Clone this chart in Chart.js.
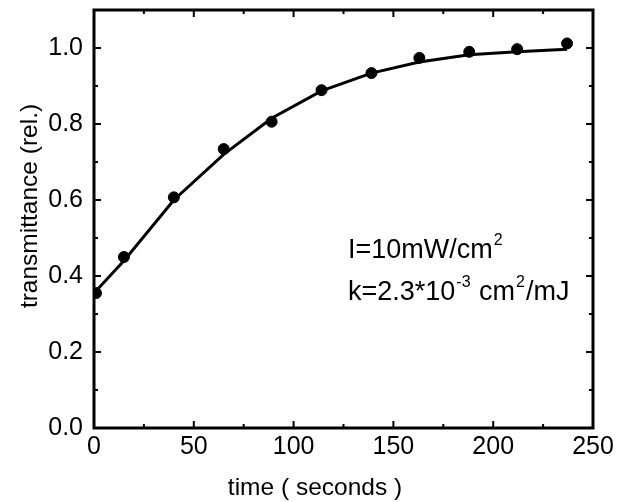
<!DOCTYPE html>
<html>
<head>
<meta charset="utf-8">
<script src="https://cdn.jsdelivr.net/npm/chart.js@4"></script>
<style>
  html, body { margin: 0; padding: 0; background: #fff; }
  #wrap { width: 631px; height: 502px; }
</style>
</head>
<body>
<div id="wrap"><canvas id="grafico" width="631" height="502"></canvas></div>
<script>
// measured points
const tempos = [1, 15, 40, 65, 89, 114, 139, 163, 188, 212, 237];
const transm = [0.355, 0.45, 0.607, 0.734, 0.806, 0.889, 0.934, 0.974, 0.99, 0.997, 1.012];

// fitted curve
const tempoAjuste = [0, 15, 40, 65, 89, 114, 139, 163, 188, 212, 237];
const transmAjuste = [0.355, 0.44, 0.60, 0.72, 0.815, 0.887, 0.934, 0.963, 0.982, 0.99, 0.997];

const xMarcas = [0, 50, 100, 150, 200, 250];
const yMarcas = [0.0, 0.2, 0.4, 0.6, 0.8, 1.0];
const xMenores = [25, 75, 125, 175, 225];
const yMenores = [0.1, 0.3, 0.5, 0.7, 0.9];

const fonte = '"Liberation Sans", Arial, sans-serif';

const moldura = {
    id: 'moldura',
    afterDraw(chart) {
        const ctx = chart.ctx;
        const a = chart.chartArea;
        const sx = chart.scales.x, sy = chart.scales.y;
        ctx.save();
        ctx.strokeStyle = '#000';
        ctx.lineWidth = 3;
        ctx.strokeRect(a.left, a.top, a.right - a.left, a.bottom - a.top);

        ctx.lineWidth = 2;
        const tick = (x1, y1, x2, y2) => { ctx.beginPath(); ctx.moveTo(x1, y1); ctx.lineTo(x2, y2); ctx.stroke(); };
        xMarcas.forEach(v => {
            const px = sx.getPixelForValue(v);
            tick(px, a.bottom, px, a.bottom - 7);
            tick(px, a.top, px, a.top + 7);
        });
        xMenores.forEach(v => {
            const px = sx.getPixelForValue(v);
            tick(px, a.bottom, px, a.bottom - 4);
            tick(px, a.top, px, a.top + 4);
        });
        yMarcas.forEach(v => {
            const py = sy.getPixelForValue(v);
            tick(a.left, py, a.left + 7, py);
            tick(a.right, py, a.right - 7, py);
        });
        yMenores.forEach(v => {
            const py = sy.getPixelForValue(v);
            tick(a.left, py, a.left + 4, py);
            tick(a.right, py, a.right - 4, py);
        });

        ctx.fillStyle = '#000';
        ctx.textBaseline = 'alphabetic';

        // axis titles
        ctx.font = '24.5px ' + fonte;
        ctx.textAlign = 'center';
        ctx.fillText('time ( seconds )', 315, 495);
        ctx.save();
        ctx.translate(37, 206);
        ctx.rotate(-Math.PI / 2);
        ctx.fillText('transmittance (rel.)', 0, 0);
        ctx.restore();

        // annotation
        ctx.textAlign = 'left';
        const escrever = (partes, x, y) => {
            partes.forEach(p => {
                if (p.sup) {
                    ctx.font = '16px ' + fonte;
                    ctx.fillText(p.t, x + 1, y - 13);
                    x += ctx.measureText(p.t).width + 2;
                } else {
                    ctx.font = '27px ' + fonte;
                    ctx.fillText(p.t, x, y);
                    x += ctx.measureText(p.t).width;
                }
            });
        };
        escrever([{ t: 'I=10mW/cm' }, { t: '2', sup: true }], 348, 258);
        escrever([{ t: 'k=2.3*10' }, { t: '-3', sup: true }, { t: ' cm' }, { t: '2', sup: true }, { t: '/mJ' }], 348, 300);
        ctx.restore();
    }
};

new Chart(document.getElementById('grafico'), {
    type: 'scatter',
    data: {
        datasets: [
            {
                label: 'dados',
                data: tempos.map((t, i) => ({ x: t, y: transm[i] })),
                backgroundColor: '#000',
                borderColor: '#000',
                pointRadius: 5.5,
                showLine: false
            },
            {
                label: 'ajuste',
                data: tempoAjuste.map((t, i) => ({ x: t, y: transmAjuste[i] })),
                borderColor: '#000',
                borderWidth: 3,
                pointRadius: 0,
                showLine: true,
                tension: 0
            }
        ]
    },
    options: {
        responsive: false,
        animation: false,
        layout: { padding: { left: 0, top: 10, right: 38, bottom: 0 } },
        plugins: { legend: { display: false }, tooltip: { enabled: false } },
        scales: {
            x: {
                type: 'linear',
                min: 0, max: 250,
                afterFit: s => { s.height = 74; s.paddingLeft = 0; s.paddingRight = 0; },
                grid: { display: false, drawTicks: false },
                border: { display: false },
                ticks: {
                    stepSize: 50,
                    padding: 4,
                    color: '#000',
                    font: { family: fonte, size: 25 },
                    maxRotation: 0
                }
            },
            y: {
                type: 'linear',
                min: 0, max: 1.1,
                afterFit: s => { s.width = 94; s.paddingTop = 0; s.paddingBottom = 0; },
                afterBuildTicks: s => { s.ticks = yMarcas.map(v => ({ value: v })); },
                grid: { display: false, drawTicks: false },
                border: { display: false },
                ticks: {
                    padding: 11,
                    color: '#000',
                    font: { family: fonte, size: 25 },
                    callback: v => v.toFixed(1)
                }
            }
        }
    },
    plugins: [moldura]
});
</script>
</body>
</html>
